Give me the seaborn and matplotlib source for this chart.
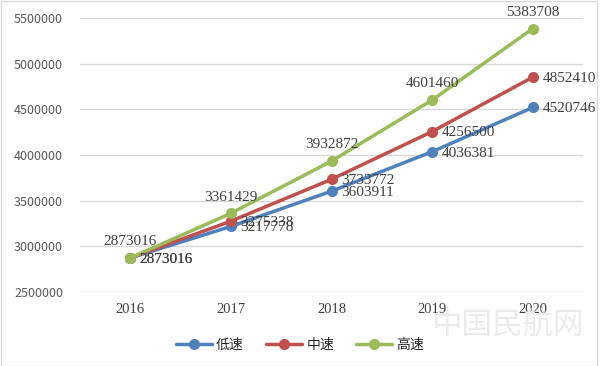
import matplotlib
matplotlib.use('Agg')

import matplotlib.pyplot as plt
import seaborn as sns
import pandas as pd

# datos del gráfico
years = [2016, 2017, 2018, 2019, 2020]
low = [2873016, 3217778, 3603911, 4036381, 4520746]
mid = [2873016, 3275338, 3733772, 4256500, 4852410]
high = [2873016, 3361429, 3932872, 4601460, 5383708]
series_names = ['低速', '中速', '高速']
colors = ['#4F81BD', '#C0504D', '#9BBB59']
y_ticks = [2500000, 3000000, 3500000, 4000000, 4500000, 5000000, 5500000]

df = pd.DataFrame({
    'year': years * 3,
    'value': low + mid + high,
    'serie': [s for s in series_names for _ in years],
})

sns.set_theme(style='white')
plt.rcParams['font.family'] = ['Noto Sans CJK SC', 'DejaVu Sans']

fig = plt.figure(figsize=(6, 3.66), dpi=100)
ax = fig.add_axes([0.133, 0.202, 0.839, 0.749])

sns.lineplot(data=df, x='year', y='value', hue='serie', hue_order=series_names,
             palette=colors, marker='o', markersize=8, markeredgewidth=0,
             linewidth=2.5, ax=ax, legend=True)

# etiquetas de datos: 高速 arriba, los otros a la derecha
label_font = {'family': 'Liberation Serif', 'size': 11, 'color': '#404040'}
for name, vals in zip(series_names, [low, mid, high]):
    for x, v in zip(years, vals):
        if name == '高速':
            ax.annotate(str(v), (x, v), xytext=(0, 7), textcoords='offset points',
                        ha='center', va='bottom', **label_font)
        else:
            ax.annotate(str(v), (x, v), xytext=(7, -1), textcoords='offset points',
                        ha='left', va='center', **label_font)

ax.set_xlim(2015.5, 2020.5)
ax.set_ylim(2500000, 5500000)
ax.set_xticks(years)
ax.set_xticklabels([str(y) for y in years], fontfamily='Liberation Serif',
                   fontsize=10.5, color='#404040')
ax.set_yticks(y_ticks)
ax.set_yticklabels([str(t) for t in y_ticks], fontsize=9, color='#595959')
ax.tick_params(axis='both', length=0, pad=12)
ax.tick_params(axis='x', pad=8)
ax.yaxis.grid(True, color='#d9d9d9', linewidth=1)
ax.set_axisbelow(True)
for sp in ax.spines.values():
    sp.set_visible(False)
ax.set_xlabel('')
ax.set_ylabel('')

handles, labels = ax.get_legend_handles_labels()
ax.legend_.remove()
fig.legend(handles, labels, loc='center', bbox_to_anchor=(0.5, 0.057), ncol=3,
           frameon=False, fontsize=10, handlelength=2.6, columnspacing=1.6,
           handletextpad=0.3)

# marca de agua
fig.text(0.845, 0.112, '中国民航网', ha='center', va='center', fontsize=22,
         color='#ebebeb', zorder=0)

# borde exterior
fig.patches.append(plt.Rectangle((0.001, 0.001), 0.994, 0.997, transform=fig.transFigure,
                                 fill=False, edgecolor='#d9d9d9', linewidth=1))

fig.savefig('out.png', dpi=100)
plt.close(fig)
